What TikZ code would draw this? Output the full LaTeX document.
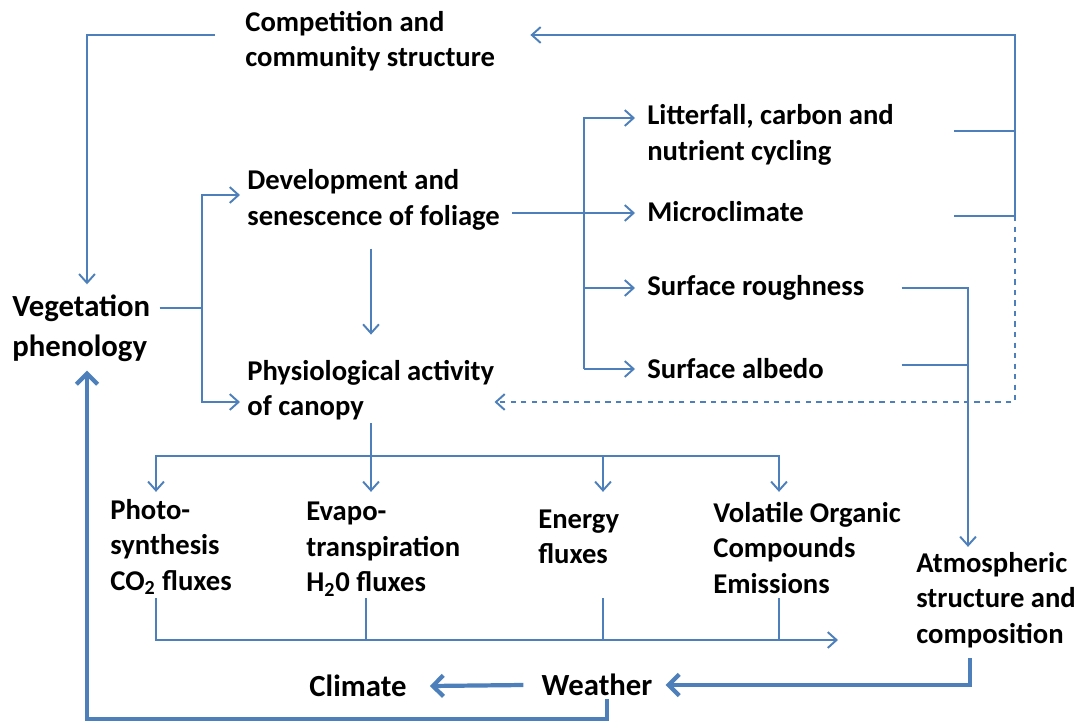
\documentclass[tikz,border=0pt]{standalone}
\usepackage{fontspec}
\setmainfont{Carlito}
\usetikzlibrary{arrows.meta,calc}

\definecolor{linkblue}{HTML}{4D7FBA}

\tikzset{
lbl/.style={font=\fontsize{16.3}{20.2}\selectfont\bfseries, align=left, anchor=west, inner sep=0pt},
biglbl/.style={font=\fontsize{17.5}{22.7}\selectfont\bfseries, align=left, inner sep=0pt},
link/.style={draw=linkblue, line width=1.1pt},
arr/.style={link, -{Straight Barb[length=5pt,width=9pt]}},
bigarr/.style={draw=linkblue, line width=2.4pt, -{Straight Barb[length=6pt,width=12pt]}}
}

\begin{document}
\begin{tikzpicture}[x=0.02cm,y=-0.02cm]
\useasboundingbox (0,0) rectangle (1085,727);

% Blocs de texte
\node[lbl] (comp) at (245,41) {Competition and\\community structure};
\node[biglbl, anchor=west] (veg) at (12,328) {Vegetation\\phenology};
\node[lbl] (dev) at (247,200) {Development and\\senescence of foliage};
\node[lbl] (phys) at (247,390) {Physiological activity\\of canopy};
\node[lbl] (litt) at (647,135) {Litterfall, carbon and\\nutrient cycling};
\node[lbl] (micro) at (647,212) {Microclimate};
\node[lbl] (rough) at (647,288) {Surface roughness};
\node[lbl] (albedo) at (647,369) {Surface albedo};
\node[lbl] (photo) at (110,547) {Photo-\\synthesis\\CO\textsubscript{2} fluxes};
\node[lbl] (evapo) at (306,549) {Evapo-\\transpiration\\H\textsubscript{2}0 fluxes};
\node[lbl] (energy) at (538,537) {Energy\\fluxes};
\node[lbl] (voc) at (713,548) {Volatile Organic\\Compounds\\Emissions};
\node[lbl] (atmo) at (916,600) {Atmospheric\\structure and\\composition};
\node[biglbl] (weather) at (597,685) {Weather};
\node[biglbl] (climate) at (358,686) {Climate};

% Points de jonction
\coordinate (topR) at (1015,35);
\coordinate (vegJ) at (202,308);
\coordinate (devJ) at (584,213);
\coordinate (physJ) at (371,456);
\coordinate (fluxJ) at (156,640);

% Competition -> vegetation
\draw[arr] ($(comp.west)+(-30,-6)$) -| ($(veg.north west)+(75,-10)$);

% Retour vers competition
\draw[link] ($(litt.east)+(60,-4)$) -- ($(topR |- litt.east)+(0,-4)$);
\draw[arr] ($(litt.east |- micro.east)+(60,4)$) -| (topR) -- ($(comp.east)+(35,-6)$);
\draw[arr, dashed] ($(topR |- micro.east)+(0,4)$) |- ($(phys.east)+(0,12)$);

% Vegetation -> feuillage / canopee
\draw[link] ($(vegJ -| veg.east)+(9,0)$) -- (vegJ);
\draw[arr] (vegJ) |- ($(dev.west)+(-7,-5)$);
\draw[arr] (vegJ) |- ($(phys.west)+(-7,12)$);

% Feuillage -> canopee
\draw[arr] ($(dev.south west)+(124,18)$) -- ($(phys.north west)+(124,-25)$);

% Feuillage -> colonne de droite
\draw[arr] ($(devJ -| dev.east)+(12,0)$) -- ($(devJ -| micro.west)+(-12,0)$);
\draw[arr] (devJ |- albedo.west) -- ($(devJ |- litt.west)+(0,-17)$) -- ($(litt.west)+(-12,-17)$);
\draw[arr] (devJ |- rough.west) -- ($(rough.west)+(-12,0)$);
\draw[arr] (devJ |- albedo.west) -- ($(albedo.west)+(-12,0)$);

% Canopee -> flux
\draw[link] ($(phys.south west)+(124,3)$) -- (physJ);
\draw[arr] (physJ) -| ($(photo.north west)+(46,-7)$);
\draw[arr] (physJ) -- ($(physJ |- photo.north)+(0,-7)$);
\draw[arr] (physJ) -| ($(photo.north -| energy.west)+(65,-7)$);
\draw[arr] (physJ) -| ($(photo.north -| voc.west)+(66,-7)$);

% Flux -> atmosphere
\draw[arr] ($(photo.south west)+(46,3)$) |- ($(atmo.west |- fluxJ)+(-78,0)$);
\draw[link] ($(photo.south -| evapo.west)+(60,3)$) -- ($(fluxJ -| evapo.west)+(60,0)$);
\draw[link] ($(photo.south -| energy.west)+(65,3)$) -- ($(fluxJ -| energy.west)+(65,0)$);
\draw[link] ($(photo.south -| voc.west)+(66,3)$) -- ($(fluxJ -| voc.west)+(66,0)$);

% Rugosite / albedo -> atmosphere
\draw[arr] ($(rough.east)+(37,0)$) -| ($(atmo.north west)+(52,-5)$);
\draw[link] ($(albedo.east -| rough.east)+(37,-4)$) -- ($(albedo.east -| atmo.west)+(52,-4)$);

% Atmosphere -> weather -> climate / vegetation
\draw[bigarr] ($(atmo.south west)+(54,10)$) |- ($(weather.east)+(13,0)$);
\draw[bigarr] ($(weather.west)+(-18,0)$) -- ($(climate.east)+(23,0)$);
\draw[bigarr] ($(weather.south)+(10,3)$) -- ++(0,20) -| ($(veg.south west)+(75,9)$);

\end{tikzpicture}
\end{document}
